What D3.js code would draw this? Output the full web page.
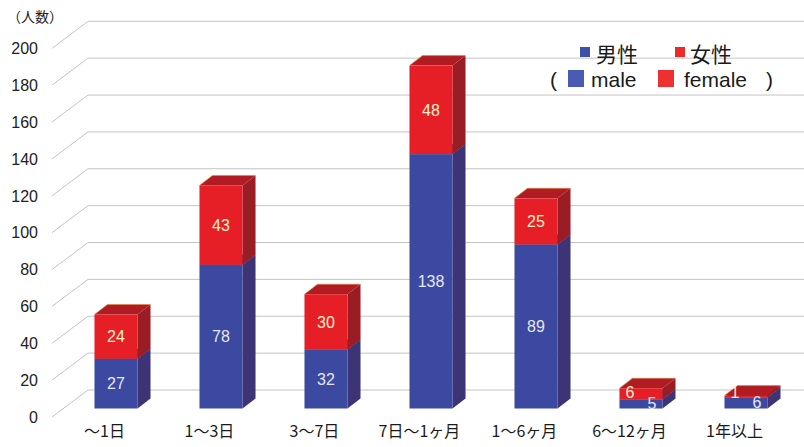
<!DOCTYPE html>
<html>
<head>
<meta charset="utf-8">
<script src="https://cdn.jsdelivr.net/npm/d3@7"></script>
<style>
  html, body { margin: 0; padding: 0; background: #fff; }
  svg { display: block; font-family: "Liberation Sans", Arial, "Noto Sans CJK JP", sans-serif; }
</style>
</head>
<body>
<svg id="chart" width="804" height="447"></svg>
<script>
// Duration categories and counts by sex
const categories = ["～1日", "1～3日", "3～7日", "7日～1ヶ月", "1～6ヶ月", "6～12ヶ月", "1年以上"];
const male   = [27, 78, 32, 138, 89, 5, 6];
const female = [24, 43, 30, 48, 25, 6, 1];
const yTicks = [0, 20, 40, 60, 80, 100, 120, 140, 160, 180, 200];

const W = 804, H = 447;
const svg = d3.select("#chart");

// front plane scales
const x = d3.scaleBand().domain(categories).range([52, 787]).paddingInner(0.59).paddingOuter(0.295);
const y = d3.scaleLinear().domain([0, 200]).range([417, 48.3]);

// 3D depth offsets
const wall = { dx: 36, dy: -27 };
const barDepth = { dx: 13, dy: -10 };
const barShift = { dx: 11.5, dy: -8.5 };

const colors = {
  male:   { front: "#3b4aa0", side: "#3c3475", top: "#33388a", label: "#e6e6f4" },
  female: { front: "#e61e25", side: "#9a1c24", top: "#b01c22", label: "#fff0cc" }
};

// grid: diagonal on the side wall + horizontal line on the back wall
const grid = svg.append("g").attr("stroke", "#c4c4c4").attr("stroke-width", 1).attr("fill", "none");
yTicks.forEach(t => {
  const yf = y(t);
  grid.append("path")
    .attr("d", `M${x.range()[0]},${yf} L${x.range()[0] + wall.dx},${yf + wall.dy} L${W},${yf + wall.dy}`);
});

// y tick labels
svg.append("g").selectAll("text").data(yTicks).join("text")
  .attr("x", 38).attr("y", d => y(d)).attr("dy", "0.36em")
  .attr("text-anchor", "end").attr("font-size", 16).attr("fill", "#222")
  .text(d => d);

svg.append("text").attr("x", 7).attr("y", 22).attr("font-size", 14).attr("fill", "#222")
  .attr("font-family", "'Noto Sans CJK JP', sans-serif").text("（人数）");

// stacked data
const rows = categories.map((c, i) => ({ cat: c, male: male[i], female: female[i] }));
const stack = d3.stack().keys(["male", "female"])(rows);

const bars = svg.append("g");
const bw = x.bandwidth();
rows.forEach((r, i) => {
  const x0 = x(r.cat) + barShift.dx;
  stack.forEach(layer => {
    const key = layer.key;
    const [v0, v1] = layer[i];
    const yb = y(v0) + barShift.dy, yt = y(v1) + barShift.dy;
    const c = colors[key];
    const g = bars.append("g");
    // side face
    g.append("path").attr("fill", c.side)
      .attr("d", `M${x0 + bw},${yb} L${x0 + bw + barDepth.dx},${yb + barDepth.dy} L${x0 + bw + barDepth.dx},${yt + barDepth.dy} L${x0 + bw},${yt}Z`);
    // top face
    g.append("path").attr("fill", c.top)
      .attr("d", `M${x0},${yt} L${x0 + bw},${yt} L${x0 + bw + barDepth.dx},${yt + barDepth.dy} L${x0 + barDepth.dx},${yt + barDepth.dy}Z`);
    // front face
    g.append("rect").attr("x", x0).attr("y", yt).attr("width", bw).attr("height", yb - yt).attr("fill", c.front);
  });
  // thin warm edge along the top of each column
  const top = y(r.male + r.female) + barShift.dy;
  bars.append("path").attr("fill", "none").attr("stroke", "#d9883a").attr("stroke-width", 0.6)
    .attr("d", `M${x0},${top} L${x0 + barDepth.dx},${top + barDepth.dy} L${x0 + bw + barDepth.dx},${top + barDepth.dy}`);
});

// value labels
const labels = svg.append("g").attr("font-size", 16).attr("text-anchor", "middle");
rows.forEach((r, i) => {
  const cx = x(r.cat) + barShift.dx + bw / 2;
  const small = (y(0) - y(r.male + r.female)) < 30;
  stack.forEach(layer => {
    const key = layer.key;
    const [v0, v1] = layer[i];
    let ly = (y(v0) + y(v1)) / 2 + barShift.dy;
    let lx = cx;
    if (small) {
      if (key === "female") { lx = cx - 11; ly = Math.min(ly, y(0) + barShift.dy - 16); }
      else { lx = cx + 11; ly = ly - 1; }
    }
    labels.append("text").attr("x", lx).attr("y", ly).attr("dy", "0.36em")
      .attr("fill", colors[key].label).text(key === "male" ? r.male : r.female);
  });
});

// category labels along the front floor edge
svg.append("g").selectAll("text").data(categories).join("text")
  .attr("x", d => x(d) + x.bandwidth() / 2).attr("y", 437)
  .attr("text-anchor", "middle").attr("font-size", 16).attr("fill", "#1a1a1a")
  .attr("font-family", "'Noto Sans CJK JP', sans-serif")
  .text(d => d);

// legend
const lg = svg.append("g").attr("font-family", "'Noto Sans CJK JP', sans-serif").attr("fill", "#1a1a1a");
lg.append("rect").attr("x", 580).attr("y", 47).attr("width", 10).attr("height", 10).attr("fill", "#3e4fa8");
lg.append("text").attr("x", 596).attr("y", 62).attr("font-size", 21).text("男性");
lg.append("rect").attr("x", 675).attr("y", 47).attr("width", 10).attr("height", 10).attr("fill", "#ec2a2a");
lg.append("text").attr("x", 690).attr("y", 62).attr("font-size", 21).text("女性");

const lg2 = svg.append("g").attr("font-family", "'Liberation Sans', Arial, sans-serif").attr("fill", "#1a1a1a").attr("font-size", 21);
lg2.append("text").attr("x", 550).attr("y", 87).text("(");
lg2.append("rect").attr("x", 568).attr("y", 70).attr("width", 16).attr("height", 17).attr("fill", "#4a5bb4");
lg2.append("text").attr("x", 591).attr("y", 87).text("male");
lg2.append("rect").attr("x", 658).attr("y", 70).attr("width", 16).attr("height", 17).attr("fill", "#ee3030");
lg2.append("text").attr("x", 684).attr("y", 87).text("female");
lg2.append("text").attr("x", 766).attr("y", 87).text(")");
</script>
</body>
</html>
